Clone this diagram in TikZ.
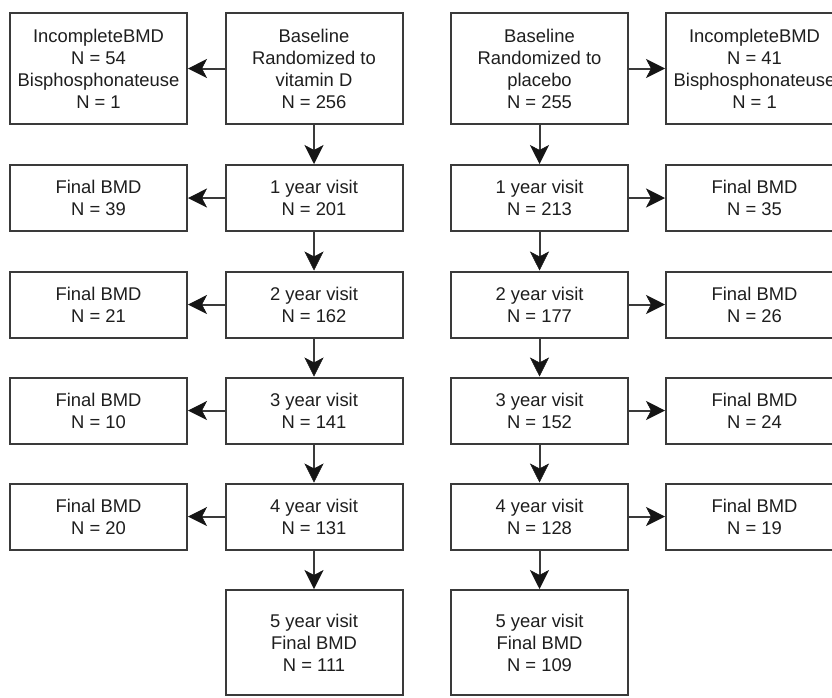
\documentclass[tikz,border=0pt]{standalone}
\usepackage{fontspec}
\setmainfont{Liberation Sans}
\usetikzlibrary{arrows.meta}
\definecolor{edge}{HTML}{3A3A3A}
\definecolor{tip}{HTML}{151515}
\definecolor{txt}{HTML}{1E1E1E}
\begin{document}
\begin{tikzpicture}[x=1pt,y=-1pt,
  box/.style={draw=edge, line width=2pt, fill=white, align=center, inner sep=0pt,
    text=txt, font=\fontsize{18.4}{22}\selectfont, minimum width=177pt},
  short/.style={box, minimum height=66pt},
  tall/.style={box, minimum height=111pt},
  last/.style={box, minimum height=105pt},
  conn/.style={draw=edge, line width=2pt, -{Stealth[length=19pt,width=19pt,inset=5pt,color=tip,line width=0.5pt]}}]
\useasboundingbox (0,0) rectangle (832,697);
% left column (vitamin D)
\node[tall]  (a0) at (314,68.5) {Baseline\\Randomized to\\vitamin D\\N = 256};
\node[short] (a1) at (314,198) {1 year visit\\N = 201};
\node[short] (a2) at (314,304.5) {2 year visit\\N = 162};
\node[short] (a3) at (314,410.5) {3 year visit\\N = 141};
\node[short] (a4) at (314,516.5) {4 year visit\\N = 131};
\node[last]  (a5) at (314,642.5) {5 year visit\\Final BMD\\N = 111};
\node[tall]  (l0) at (98.5,68.5) {IncompleteBMD\\N = 54\\Bisphosphonateuse\\N = 1};
\node[short] (l1) at (98.5,198) {Final BMD\\N = 39};
\node[short] (l2) at (98.5,304.5) {Final BMD\\N = 21};
\node[short] (l3) at (98.5,410.5) {Final BMD\\N = 10};
\node[short] (l4) at (98.5,516.5) {Final BMD\\N = 20};
% right column (placebo)
\node[tall]  (b0) at (539.5,68.5) {Baseline\\Randomized to\\placebo\\N = 255};
\node[short] (b1) at (539.5,198) {1 year visit\\N = 213};
\node[short] (b2) at (539.5,304.5) {2 year visit\\N = 177};
\node[short] (b3) at (539.5,410.5) {3 year visit\\N = 152};
\node[short] (b4) at (539.5,516.5) {4 year visit\\N = 128};
\node[last]  (b5) at (539.5,642.5) {5 year visit\\Final BMD\\N = 109};
\node[tall]  (r0) at (754.5,68.5) {IncompleteBMD\\N = 41\\Bisphosphonateuse\\N = 1};
\node[short] (r1) at (754.5,198) {Final BMD\\N = 35};
\node[short] (r2) at (754.5,304.5) {Final BMD\\N = 26};
\node[short] (r3) at (754.5,410.5) {Final BMD\\N = 24};
\node[short] (r4) at (754.5,516.5) {Final BMD\\N = 19};
% connectors
\foreach \i/\j in {0/1,1/2,2/3,3/4,4/5}{
  \draw[conn] (a\i) -- (a\j);
  \draw[conn] (b\i) -- (b\j);
}
\foreach \i in {0,1,2,3,4}{
  \draw[conn] (a\i) -- (l\i);
  \draw[conn] (b\i) -- (r\i);
}
\end{tikzpicture}
\end{document}
